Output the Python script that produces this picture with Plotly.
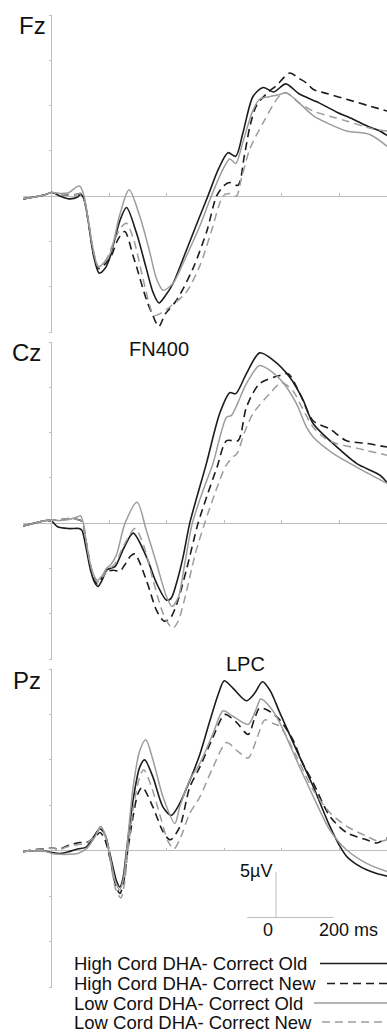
import plotly.graph_objects as go

W, H = 387, 1033

# ---------------- data (ms, microvolts) ----------------
FZ_HO_T = [-100, -60, -30, 0, 30, 60, 90, 100, 112, 128, 145, 165, 185, 202, 237, 260, 294, 329, 352, 373, 395, 421, 468, 510, 543, 580, 613, 640, 665, 700, 735, 772, 814, 860, 930, 990, 1048, 1100, 1141, 1166]
FZ_HO_V = [-0.3, -0.1, 0.1, 0.4, 0.0, -0.3, -0.1, 0.2, -0.3, -3.0, -6.5, -8.5, -8.0, -6.8, -2.7, -1.25, -4.0, -8.0, -10.6, -11.8, -11.0, -9.7, -6.0, -2.6, 0.0, 3.0, 4.8, 4.4, 7.0, 11.0, 12.0, 11.5, 12.4, 11.3, 10.3, 9.3, 8.5, 7.7, 7.2, 6.7]
FZ_HN_T = [-100, -60, -30, 0, 30, 60, 90, 100, 112, 128, 145, 163, 185, 207, 230, 254, 283, 294, 329, 352, 372, 395, 434, 491, 540, 573, 600, 619, 648, 670, 690, 712, 750, 781, 828, 860, 886, 909, 960, 1025, 1100, 1166]
FZ_HN_V = [-0.3, -0.1, 0.1, 0.4, 0.2, 0.1, 0.2, 0.3, -0.3, -3.0, -6.3, -8.0, -7.5, -6.6, -4.8, -3.9, -6.6, -7.7, -11.4, -13.2, -14.4, -13.0, -11.5, -8.0, -3.8, 0.0, 1.2, 1.5, 1.2, 4.5, 7.8, 10.0, 11.4, 12.2, 13.6, 13.0, 12.5, 11.8, 11.3, 10.7, 10.0, 9.4]
FZ_LO_T = [-100, -60, -30, 0, 30, 60, 85, 97, 110, 128, 145, 162, 185, 205, 237, 269, 306, 341, 364, 387, 410, 425, 470, 515, 555, 590, 619, 640, 665, 700, 723, 760, 790, 816, 860, 909, 970, 1025, 1106, 1166]
FZ_LO_V = [-0.3, -0.1, 0.1, 0.4, 0.3, 0.4, 1.0, 1.1, 0.3, -2.8, -6.0, -7.8, -7.2, -6.2, -2.0, 0.7, -2.2, -6.2, -9.1, -10.4, -10.0, -9.5, -6.5, -3.3, 0.0, 2.6, 4.1, 3.6, 6.0, 9.5, 10.7, 11.0, 11.2, 11.4, 10.3, 8.9, 7.9, 7.2, 6.8, 5.5]
FZ_LN_T = [-100, -60, -30, 0, 30, 60, 90, 100, 112, 128, 145, 163, 185, 210, 240, 260, 285, 315, 340, 355, 375, 416, 468, 515, 555, 596, 620, 642, 660, 689, 735, 793, 816, 860, 909, 970, 1025, 1118, 1166]
FZ_LN_V = [-0.3, -0.1, 0.1, 0.4, 0.2, 0.1, 0.2, 0.3, -0.3, -2.9, -6.1, -7.8, -7.3, -5.5, -3.5, -3.0, -4.8, -8.8, -12.0, -13.2, -13.0, -12.1, -10.6, -7.7, -3.9, 0.0, 0.3, 0.0, 2.0, 5.2, 8.1, 11.1, 11.4, 10.3, 9.4, 8.8, 8.3, 7.4, 7.2]

CZ_HO_T = [-100, -60, -20, 0, 20, 60, 95, 105, 118, 135, 150, 161, 175, 190, 202, 220, 250, 283, 329, 364, 399, 415, 434, 457, 480, 538, 584, 619, 640, 677, 723, 770, 828, 874, 909, 978, 1060, 1141, 1166]
CZ_HO_V = [-0.3, 0.0, 0.3, 0.2, -0.4, -0.6, -0.6, -0.8, -2.5, -5.2, -6.6, -7.0, -6.3, -5.2, -5.0, -4.8, -2.8, -1.1, -3.7, -6.6, -8.5, -8.3, -6.6, -3.7, 0.0, 6.6, 12.1, 14.4, 14.3, 16.5, 18.8, 18.0, 16.1, 13.6, 11.0, 8.8, 6.6, 5.3, 4.5]
CZ_HN_T = [-100, -60, -20, 0, 30, 60, 90, 100, 110, 122, 140, 158, 175, 195, 215, 237, 254, 275, 289, 329, 364, 390, 410, 434, 468, 509, 540, 575, 608, 648, 677, 723, 793, 822, 863, 909, 967, 1025, 1095, 1166]
CZ_HN_V = [-0.3, 0.0, 0.3, 0.3, 0.4, 0.5, 0.4, 0.3, -0.3, -2.5, -5.4, -6.7, -6.0, -5.3, -5.2, -5.3, -4.6, -3.6, -3.4, -6.3, -9.6, -10.8, -10.6, -9.0, -5.2, 0.0, 3.0, 6.2, 9.1, 9.1, 12.8, 15.4, 16.3, 16.5, 14.3, 11.3, 10.4, 9.1, 8.8, 8.4]
CZ_LO_T = [-100, -60, -20, 0, 30, 60, 90, 100, 110, 122, 140, 158, 175, 190, 205, 225, 255, 297, 329, 364, 399, 418, 440, 463, 489, 525, 561, 608, 625, 677, 723, 770, 805, 851, 886, 909, 978, 1071, 1166]
CZ_LO_V = [-0.3, 0.0, 0.3, 0.3, 0.3, 0.4, 0.7, 0.8, 0.0, -2.5, -5.2, -6.3, -5.8, -5.0, -4.6, -3.5, 0.0, 2.3, -0.8, -4.4, -8.1, -9.2, -8.2, -4.4, 0.0, 3.5, 6.6, 11.7, 11.9, 15.4, 17.4, 16.6, 15.5, 13.2, 10.6, 9.5, 7.7, 6.0, 4.4]
CZ_LN_T = [-100, -60, -20, 0, 30, 60, 90, 100, 110, 122, 140, 158, 175, 195, 220, 250, 290, 320, 350, 385, 410, 422, 440, 465, 500, 532, 570, 605, 630, 645, 670, 700, 758, 799, 839, 870, 909, 950, 990, 1071, 1166]
CZ_LN_V = [-0.3, 0.0, 0.3, 0.3, 0.4, 0.5, 0.4, 0.3, -0.3, -2.4, -5.2, -6.5, -6.0, -5.2, -4.5, -2.5, -0.6, -2.5, -6.0, -9.8, -11.3, -11.6, -10.8, -8.0, -3.3, 0.0, 3.5, 6.3, 7.3, 7.7, 10.0, 12.1, 14.3, 15.5, 14.6, 12.8, 10.6, 9.4, 8.8, 8.2, 7.5]

PZ_HO_T = [-100, -60, -30, 0, 30, 60, 90, 120, 145, 167, 185, 202, 225, 237, 248, 260, 283, 306, 323, 352, 387, 416, 445, 468, 515, 550, 580, 600, 630, 677, 705, 733, 760, 793, 851, 909, 967, 1002, 1025, 1060, 1095, 1130, 1166]
PZ_HO_V = [-0.1, 0.0, 0.0, -0.2, -0.3, -0.1, 0.2, 0.4, 1.5, 2.4, 1.8, -0.3, -3.3, -4.0, -3.0, 0.0, 5.6, 9.2, 10.0, 8.1, 4.8, 3.9, 5.2, 6.8, 10.6, 14.3, 17.3, 18.7, 17.9, 16.5, 17.3, 18.6, 17.6, 15.2, 11.1, 7.1, 2.7, 0.5, -0.6, -1.5, -2.1, -2.5, -2.8]
PZ_HN_T = [-100, -60, -30, 0, 30, 60, 97, 120, 150, 168, 185, 205, 222, 237, 250, 262, 283, 300, 315, 352, 387, 412, 445, 480, 515, 561, 602, 640, 683, 705, 723, 760, 793, 839, 870, 909, 967, 1025, 1095, 1129, 1166]
PZ_HN_V = [-0.1, 0.1, 0.2, 0.3, 0.2, 0.6, 0.9, 0.9, 1.5, 2.0, 1.2, -1.2, -3.8, -4.7, -3.5, -0.5, 3.8, 6.3, 7.0, 4.8, 2.1, 1.2, 2.6, 7.0, 9.2, 12.5, 15.0, 14.2, 12.8, 14.5, 15.7, 15.3, 14.4, 12.2, 9.8, 7.5, 3.8, 2.0, 1.2, 0.85, 1.4]
PZ_LO_T = [-100, -60, -30, 0, 30, 60, 90, 120, 150, 170, 188, 205, 222, 237, 250, 262, 283, 306, 327, 352, 387, 428, 445, 480, 515, 561, 596, 630, 683, 710, 727, 760, 793, 851, 909, 967, 1025, 1095, 1166]
PZ_LO_V = [-0.1, 0.0, 0.0, -0.3, -0.4, -0.4, -0.3, 0.2, 1.5, 2.7, 1.6, -1.0, -3.5, -4.3, -3.0, 0.5, 7.0, 11.0, 12.2, 10.0, 5.9, 3.0, 4.8, 7.8, 9.6, 12.9, 15.4, 14.8, 13.9, 15.5, 16.7, 15.8, 14.1, 10.0, 6.0, 2.3, 0.1, -1.4, -2.3]
PZ_LN_T = [-100, -60, -30, 0, 30, 60, 97, 120, 150, 170, 188, 205, 222, 240, 252, 265, 285, 305, 320, 345, 380, 405, 425, 445, 480, 515, 561, 608, 645, 683, 715, 741, 770, 793, 851, 909, 967, 1025, 1095, 1140, 1166]
PZ_LN_V = [-0.1, 0.1, 0.2, 0.3, 0.2, 0.5, 0.7, 0.8, 1.6, 2.5, 1.4, -1.3, -4.2, -5.2, -3.8, 0.0, 5.0, 8.0, 8.9, 7.2, 3.5, 1.0, 0.2, 1.2, 4.1, 5.9, 9.2, 11.9, 11.0, 10.2, 12.5, 14.4, 14.0, 13.7, 10.4, 6.7, 4.2, 2.7, 1.6, 1.0, 1.2]

CONDITIONS = ["High Cord DHA- Correct Old", "High Cord DHA- Correct New",
              "Low Cord DHA- Correct Old", "Low Cord DHA- Correct New"]
ELECTRODES = ["Fz", "Cz", "Pz"]
COMPONENTS = {"Cz": "FN400", "Pz": "LPC"}
X_RANGE = [-100, 1166]
Y_RANGE = [-15, 20]
Y_DTICK = 5
X_DTICK = 200
SCALE_ORIGIN = (780, -7.35)   # ms, microvolts (Pz axes)
SCALE_MS = 200
SCALE_UV = 5

PANELS = {
    "Fz": [(FZ_HO_T, FZ_HO_V), (FZ_HN_T, FZ_HN_V), (FZ_LO_T, FZ_LO_V), (FZ_LN_T, FZ_LN_V)],
    "Cz": [(CZ_HO_T, CZ_HO_V), (CZ_HN_T, CZ_HN_V), (CZ_LO_T, CZ_LO_V), (CZ_LN_T, CZ_LN_V)],
    "Pz": [(PZ_HO_T, PZ_HO_V), (PZ_HN_T, PZ_HN_V), (PZ_LO_T, PZ_LO_V), (PZ_LN_T, PZ_LN_V)],
}

# ---------------- styling ----------------
BLACK = "#1c1c1c"
GRAY = "#9c9c9c"
AXIS = "#bdbdbd"
DASH = "8px,5px"
STYLES = [(BLACK, "solid", 1.6), (BLACK, DASH, 1.6), (GRAY, "solid", 1.5), (GRAY, DASH, 1.5)]
FONT = "Liberation Sans, Arial, sans-serif"

def px_x(p):
    return p / W

def px_y(p):
    return 1 - p / H

# vertical extent of each panel (pixel top, bottom)
PANEL_PX = {"Fz": (15, 332), "Cz": (342, 659), "Pz": (669, 987)}
X_DOMAIN = [px_x(23), 1.0]

fig = go.Figure()
annotations = []
shapes = []
layout = {}

for i, el in enumerate(ELECTRODES):
    n = "" if i == 0 else str(i + 1)
    xa, ya = "x" + n, "y" + n
    top, bot = PANEL_PX[el]
    yd = [px_y(bot), px_y(top)]
    for (t, v), (col, dash, lw), name in zip(PANELS[el], STYLES, CONDITIONS):
        fig.add_trace(go.Scatter(x=t, y=v, mode="lines", name=name, xaxis=xa, yaxis=ya,
                                 line=dict(color=col, dash=dash, width=lw, shape="spline", smoothing=0.8),
                                 showlegend=False, hoverinfo="skip"))
    zero_y = yd[0] + (0 - Y_RANGE[0]) / (Y_RANGE[1] - Y_RANGE[0]) * (yd[1] - yd[0])
    zero_x = X_DOMAIN[0] + (0 - X_RANGE[0]) / (X_RANGE[1] - X_RANGE[0]) * (X_DOMAIN[1] - X_DOMAIN[0])
    layout["xaxis" + n] = dict(domain=X_DOMAIN, range=X_RANGE, anchor="free", position=zero_y,
                               showgrid=False, zeroline=True, zerolinecolor=AXIS, zerolinewidth=1,
                               showline=False, ticks="inside", ticklen=3, tickcolor=AXIS,
                               tick0=0, dtick=X_DTICK, showticklabels=False, fixedrange=True)
    layout["yaxis" + n] = dict(domain=yd, range=Y_RANGE, anchor="free", position=zero_x,
                               showgrid=False, zeroline=True, zerolinecolor=AXIS, zerolinewidth=1,
                               showline=False, ticks="outside", ticklen=3, tickcolor=AXIS,
                               tick0=0, dtick=Y_DTICK, showticklabels=False, fixedrange=True)

# electrode labels
LABEL_POS = {"Fz": (18, 26), "Cz": (11, 353), "Pz": (12, 680)}
for el in ELECTRODES:
    lx, ly = LABEL_POS[el]
    annotations.append(dict(text=el, x=px_x(lx), y=px_y(ly), xref="paper", yref="paper",
                            xanchor="left", yanchor="middle", showarrow=False, borderpad=0,
                            font=dict(family=FONT, size=24, color="#111")))
COMP_POS = {"Cz": (128, 349), "Pz": (225, 664)}
for el, txt in COMPONENTS.items():
    lx, ly = COMP_POS[el]
    annotations.append(dict(text=txt, x=px_x(lx), y=px_y(ly), xref="paper", yref="paper",
                            xanchor="left", yanchor="middle", showarrow=False, borderpad=0,
                            font=dict(family=FONT, size=20, color="#111")))

# scale bar on Pz axes
sx, sy = SCALE_ORIGIN
shapes.append(dict(type="line", xref="x3", yref="y3", x0=sx, x1=sx, y0=sy, y1=sy + SCALE_UV,
                   line=dict(color=AXIS, width=1)))
shapes.append(dict(type="line", xref="x3", yref="y3", x0=sx - SCALE_MS / 2, x1=sx + SCALE_MS, y0=sy, y1=sy,
                   line=dict(color=AXIS, width=1)))
annotations.append(dict(text="5µV", x=sx - 12, y=sy + SCALE_UV + 0.15, xref="x3", yref="y3",
                        xanchor="right", yanchor="middle", showarrow=False, borderpad=0,
                        font=dict(family=FONT, size=18, color="#111")))
annotations.append(dict(text="0", x=sx - 28, y=sy - 1.35, xref="x3", yref="y3",
                        xanchor="center", yanchor="middle", showarrow=False, borderpad=0,
                        font=dict(family=FONT, size=18, color="#111")))
annotations.append(dict(text="200 ms", x=sx + SCALE_MS - 54, y=sy - 1.35, xref="x3", yref="y3",
                        xanchor="left", yanchor="middle", showarrow=False, borderpad=0,
                        font=dict(family=FONT, size=18, color="#111")))

# legend (text + line samples on the right)
LEG_Y = [963.5, 983.5, 1003, 1022]
LEG_SAMPLE_X0 = [320, 327, 314, 322]
for name, (col, dash, lw), yy, x0 in zip(CONDITIONS, STYLES, LEG_Y, LEG_SAMPLE_X0):
    annotations.append(dict(text=name, x=px_x(73), y=px_y(yy), xref="paper", yref="paper",
                            xanchor="left", yanchor="middle", showarrow=False, borderpad=0,
                            font=dict(family=FONT, size=18.5, color="#111")))
    shapes.append(dict(type="line", xref="paper", yref="paper", x0=px_x(x0), x1=1.0,
                       y0=px_y(yy), y1=px_y(yy), line=dict(color=col, width=1.3, dash=dash)))

fig.update_layout(width=W, height=H, margin=dict(l=0, r=0, t=0, b=0),
                  paper_bgcolor="white", plot_bgcolor="white",
                  annotations=annotations, shapes=shapes, showlegend=False, **layout)

fig.write_html("out.html", config={"displayModeBar": False})
